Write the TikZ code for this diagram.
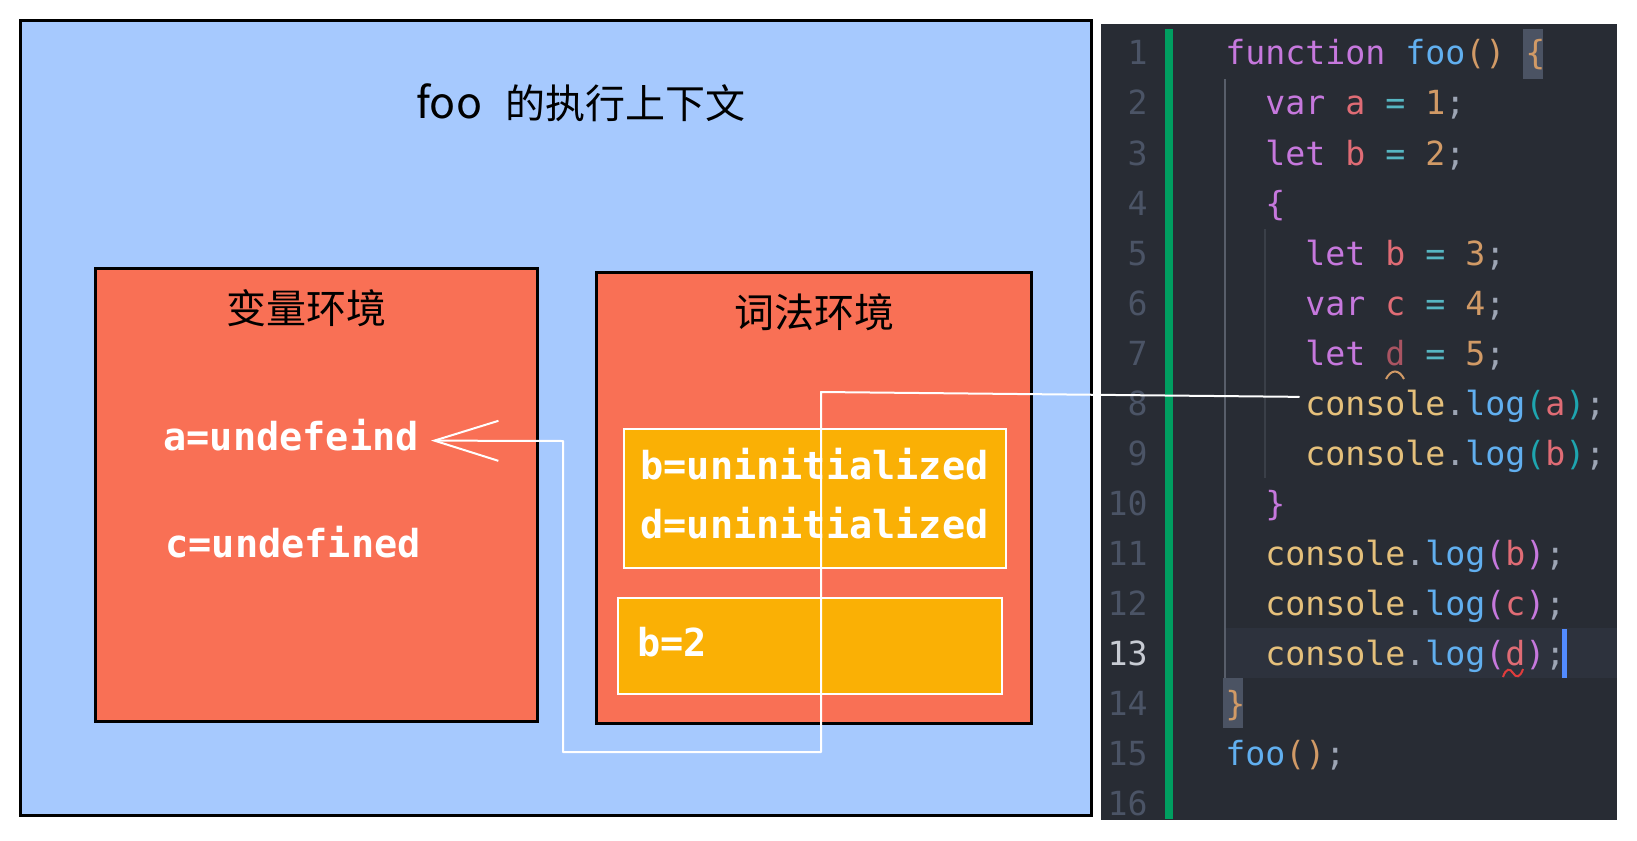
\documentclass[tikz,border=0pt]{standalone}
\usepackage{fontspec}
\usetikzlibrary{arrows.meta,calc}
\newfontfamily\cjk{Noto Sans CJK SC}
\newfontfamily\mono{DejaVu Sans Mono}
\definecolor{bluebg}{RGB}{166,201,254}
\definecolor{redbox}{RGB}{249,112,85}
\definecolor{yelbox}{RGB}{250,176,5}
\definecolor{codebg}{RGB}{40,44,52}
\definecolor{curline}{RGB}{45,50,61}
\definecolor{gutgreen}{RGB}{0,158,96}
\definecolor{lnum}{RGB}{75,84,102}
\definecolor{lnumact}{RGB}{200,204,212}
\definecolor{ckw}{RGB}{198,120,221}
\definecolor{cfn}{RGB}{97,175,239}
\definecolor{cvar}{RGB}{224,108,117}
\definecolor{cvardim}{RGB}{170,84,98}
\definecolor{cop}{RGB}{86,182,194}
\definecolor{cnum}{RGB}{209,154,102}
\definecolor{cpun}{RGB}{157,165,180}
\definecolor{ccon}{RGB}{229,192,123}
\definecolor{cteal}{RGB}{30,165,175}
\definecolor{bracehl}{RGB}{75,83,99}
\definecolor{guidea}{RGB}{88,94,106}
\definecolor{guideb}{RGB}{58,63,72}
\definecolor{cursorc}{RGB}{82,139,255}
\definecolor{squigo}{RGB}{209,154,102}
\definecolor{squigr}{RGB}{224,60,60}
\newcommand\cdK[1]{\textcolor{ckw}{#1}}
\newcommand\cdF[1]{\textcolor{cfn}{#1}}
\newcommand\cdV[1]{\textcolor{cvar}{#1}}
\newcommand\cdO[1]{\textcolor{cop}{#1}}
\newcommand\cdN[1]{\textcolor{cnum}{#1}}
\newcommand\cdP[1]{\textcolor{cpun}{#1}}
\newcommand\cdC[1]{\textcolor{ccon}{#1}}
\newcommand\cdT[1]{\textcolor{cteal}{#1}}
\begin{document}
\begin{tikzpicture}[x=0.5pt,y=-0.5pt,
  box/.style={draw=black, line width=1.4pt, inner sep=0pt, anchor=north west},
  ybox/.style={draw=white, line width=1pt, fill=yelbox, inner sep=0pt, anchor=north west},
  cjkt/.style={font={\cjk\fontsize{20pt}{24pt}\selectfont}, inner sep=0pt, text=black},
  val/.style={font={\mono\bfseries\fontsize{19.27pt}{23pt}\selectfont}, text=white, inner sep=0pt, anchor=base west},
  codeline/.style={font={\mono\fontsize{16.61pt}{20pt}\selectfont}, inner sep=0pt, anchor=base west},
  lnumst/.style={codeline, anchor=base east, text=lnum},
  conn/.style={draw=white, line width=1pt, line join=round, line cap=round},
  plain/.style={inner sep=0pt, outer sep=0pt, anchor=north west}
]
\useasboundingbox (0,0) rectangle (1637,840);
\fill[white] (0,0) rectangle (1637,840);

% ---------- execution context ----------
\node[box, fill=bluebg, minimum width=535.5pt, minimum height=397.5pt] (ctx) at (19,19) {};
\node[cjkt, anchor=base west, font={\cjk\fontsize{21.5pt}{24pt}\selectfont}] (foo) at (416,119) {foo};
\node[cjkt, anchor=base west] (title) at (505,119) {的执行上下文};

\node[box, fill=redbox, minimum width=221pt, minimum height=226.5pt] (venv) at (94,267) {};
\node[cjkt, anchor=base] (venvt) at (306,323) {变量环境};
\node[val] (aund) at (163,450) {a=undefeind};
\node[val] (cund) at (165,557) {c=undefined};

\node[box, fill=redbox, minimum width=217.5pt, minimum height=225.5pt] (lenv) at (595,271) {};
\node[cjkt, anchor=base] (lenvt) at (814,327) {词法环境};
\node[ybox, minimum width=191pt, minimum height=69.5pt] (blk) at (623,428) {};
\node[val] (bun) at (640,479) {b=uninitialized};
\node[val] (dun) at (640,538) {d=uninitialized};
\node[ybox, minimum width=192pt, minimum height=48pt] (fnb) at (617,597) {};
\node[val] (btwo) at (637,656) {b=2};

% ---------- code panel ----------
\node[plain, fill=codebg, minimum width=258pt, minimum height=398pt] (panel) at (1101,24) {};
\node[plain, fill=curline, minimum width=196.5pt, minimum height=25pt] (cur) at (1224,628) {};
\node[plain, fill=gutgreen, minimum width=4pt, minimum height=395pt] (gut) at (1165,29) {};
\node[plain, fill=bracehl, minimum width=10pt, minimum height=25pt] (hlA) at (1523,29) {};
\node[plain, fill=bracehl, minimum width=10pt, minimum height=25pt] (hlB) at (1223,678) {};
\node[plain, fill=guidea, minimum width=1.2pt, minimum height=299.5pt] (gda) at (1224,79) {};
\node[plain, fill=guideb, minimum width=1.2pt, minimum height=124.5pt] (gdb) at (1264,229) {};

\foreach \i in {1,...,12,14,15,16}{
  \node[lnumst] (n\i) at (1148,{65+50*(\i-1)}) {\i};
}
\node[lnumst, text=lnumact] (n13) at (1148,665) {13};

\node[codeline] (l1) at (1225,65) {\cdK{function} \cdF{foo}\cdN{()} \cdN{\{}};
\node[codeline] (l2) at (1265,115) {\cdK{var} \cdV{a} \cdO{=} \cdN{1}\cdP{;}};
\node[codeline] (l3) at (1265,165) {\cdK{let} \cdV{b} \cdO{=} \cdN{2}\cdP{;}};
\node[codeline] (l4) at (1265,215) {\cdK{\{}};
\node[codeline] (l5) at (1305,265) {\cdK{let} \cdV{b} \cdO{=} \cdN{3}\cdP{;}};
\node[codeline] (l6) at (1305,315) {\cdK{var} \cdV{c} \cdO{=} \cdN{4}\cdP{;}};
\node[codeline] (l7) at (1305,365) {\cdK{let} \textcolor{cvardim}{d} \cdO{=} \cdN{5}\cdP{;}};
\node[codeline] (l8) at (1305,415) {\cdC{console}\cdP{.}\cdF{log}\cdT{(}\cdV{a}\cdT{)}\cdP{;}};
\node[codeline] (l9) at (1305,465) {\cdC{console}\cdP{.}\cdF{log}\cdT{(}\cdV{b}\cdT{)}\cdP{;}};
\node[codeline] (l10) at (1265,515) {\cdK{\}}};
\node[codeline] (l11) at (1265,565) {\cdC{console}\cdP{.}\cdF{log}\cdK{(}\cdV{b}\cdK{)}\cdP{;}};
\node[codeline] (l12) at (1265,615) {\cdC{console}\cdP{.}\cdF{log}\cdK{(}\cdV{c}\cdK{)}\cdP{;}};
\node[codeline] (l13) at (1265,665) {\cdC{console}\cdP{.}\cdF{log}\cdK{(}\cdV{d}\cdK{)}\cdP{;}};
\node[codeline] (l14) at (1225,715) {\cdN{\}}};
\node[codeline] (l15) at (1225,765) {\cdF{foo}\cdN{()}\cdP{;}};

\node[plain, fill=cursorc, minimum width=2.5pt, minimum height=24.5pt] (caret) at (1562,629) {};
\draw[squigo, line width=1pt] (1386,379) .. controls (1391,369) and (1399,369) .. (1404,379);
\draw[squigr, line width=1pt] (1503,677) .. controls (1506,668) and (1510,668) .. (1513,673)
   .. controls (1516,678) and (1520,678) .. (1523,669);

% ---------- connector ----------
\draw[conn, -{Straight Barb[length=32pt,width=20pt]}]
  ($(l8.west)+(-6,-9)$) -- (821,392) -- (821,752) -- (563,752) -- (563,441)
  -- ($(aund.east)+(12,6)$);
\end{tikzpicture}
\end{document}
